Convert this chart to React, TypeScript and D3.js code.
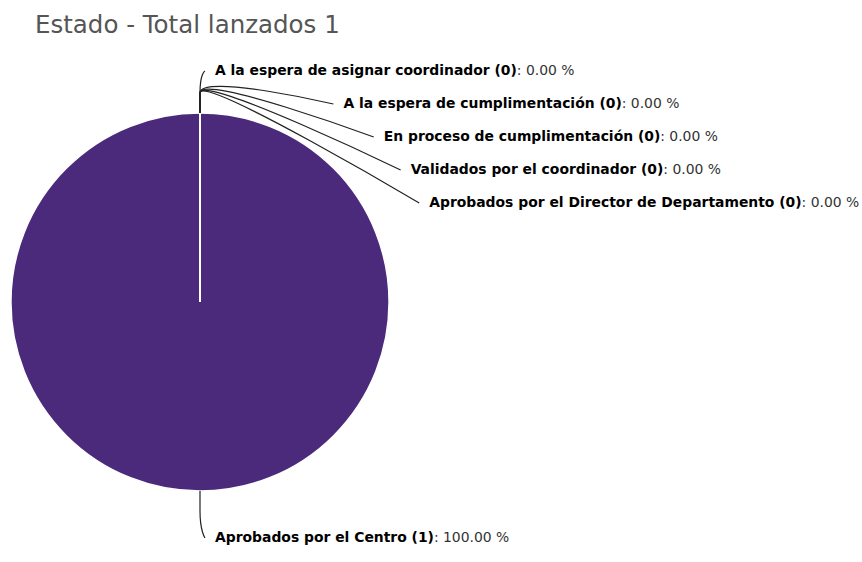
import * as d3 from "d3";

const title = "Estado - Total lanzados 1";
const categories = [
  "A la espera de asignar coordinador",
  "A la espera de cumplimentación",
  "En proceso de cumplimentación",
  "Validados por el coordinador",
  "Aprobados por el Director de Departamento",
  "Aprobados por el Centro",
];
const counts = [0, 0, 0, 0, 0, 1];
const sliceColors = ["#7cb5ec", "#434348", "#90ed7d", "#f7a35c", "#8085e9", "#4b2a7c"];

const W = 862;
const H = 562;
const cx = 200;
const cy = 302;
const radius = 189;
const breakRadius = radius + 20; // where the connector bends
const labelRadius = radius + 47; // circle the labels follow
const labelSpacing = 33;
const labelTop = cy - radius - 42;

const font = "'DejaVu Sans', Verdana, sans-serif";

export default function App() {
  const total = d3.sum(counts);
  const pct = d3.format(".2f");
  const pie = d3.pie<number>().sort(null).value((d) => d);
  const arcs = pie(counts);
  const arcGen = d3.arc<d3.PieArcDatum<number>>().innerRadius(0).outerRadius(radius);

  // label layout: natural position on the label circle, then pushed apart
  const items = arcs.map((a, i) => {
    const mid = (a.startAngle + a.endAngle) / 2;
    return {
      i,
      mid,
      naturalY: cy - labelRadius * Math.cos(mid),
    };
  });
  const sorted = [...items].sort((a, b) => a.naturalY - b.naturalY || a.i - b.i);
  let prev = -Infinity;
  const placed = sorted.map((it) => {
    let y = Math.max(it.naturalY, prev + labelSpacing);
    let clamped = false;
    if (y < labelTop) {
      y = labelTop;
      clamped = true;
    }
    prev = y;
    const dy = (clamped ? it.naturalY : y) - cy;
    const x = cx + Math.sqrt(Math.max(0, labelRadius * labelRadius - dy * dy));
    const ex = cx + radius * Math.sin(it.mid);
    const ey = cy - radius * Math.cos(it.mid);
    const bx = cx + breakRadius * Math.sin(it.mid);
    const by = cy - breakRadius * Math.cos(it.mid);
    const sx = x + 5;
    const path = `M${sx},${y}C${sx},${y} ${2 * bx - ex},${2 * by - ey} ${bx},${by}L${ex},${ey}`;
    return { ...it, x, y, path };
  });

  // draw zero-width slices last so their white borders stay visible
  const drawOrder = [...arcs].sort((a, b) => b.value - a.value);

  return (
    <svg
      width={W}
      height={H}
      style={{ position: "absolute", left: 0, top: 0, background: "#fff" }}
      fontFamily={font}
    >
      <text x={35} y={33} fontSize={24.5} fill="#555">
        {title}
      </text>
      <g transform={`translate(${cx},${cy})`}>
        {drawOrder.map((a) => (
          <path
            key={a.index}
            d={arcGen(a) ?? ""}
            fill={sliceColors[a.index]}
            stroke="#fff"
            strokeWidth={1.5}
          />
        ))}
      </g>
      <g>
        {placed.map((p) => (
          <path key={p.i} d={p.path} fill="none" stroke="#222" strokeWidth={1.2} />
        ))}
      </g>
      <g fontSize={13.9} fill="#000">
        {placed.map((p) => (
          <text key={p.i} x={p.x + 15} y={p.y} dominantBaseline="middle">
            <tspan fontWeight="bold">{`${categories[p.i]} (${counts[p.i]})`}</tspan>
            <tspan fill="#333">{`: ${pct((counts[p.i] / total) * 100)} %`}</tspan>
          </text>
        ))}
      </g>
    </svg>
  );
}
